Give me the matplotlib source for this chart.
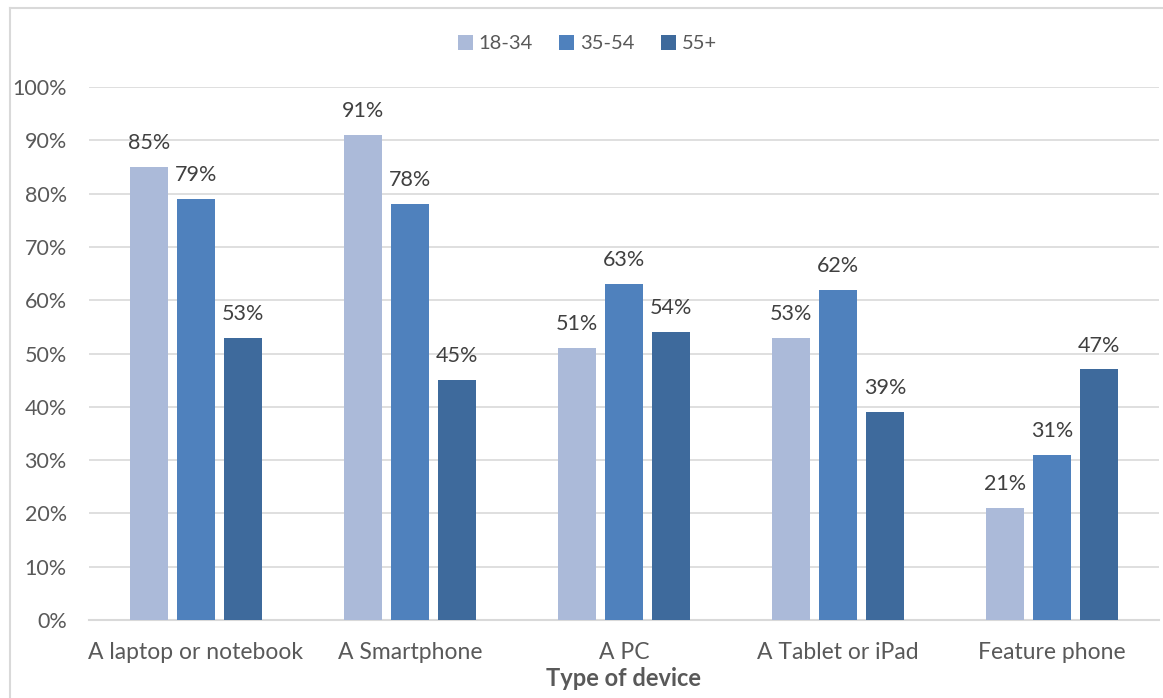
import matplotlib
matplotlib.use("Agg")
import matplotlib.pyplot as plt
import numpy as np
from matplotlib.lines import Line2D

# Device ownership by age group (share of respondents)
devices = ["A laptop or notebook", "A Smartphone", "A PC", "A Tablet or iPad", "Feature phone"]
age_groups = ["18-34", "35-54", "55+"]
share_18_34 = [85, 91, 51, 53, 21]
share_35_54 = [79, 78, 63, 62, 31]
share_55_plus = [53, 45, 54, 39, 47]

colors = ["#ABBAD9", "#4F81BD", "#3E6A9C"]
text_gray = "#595959"
grid_gray = "#D9D9D9"

plt.rcParams["font.family"] = ["Lato", "DejaVu Sans"]

fig = plt.figure(figsize=(11.63, 6.98), dpi=100)
ax = fig.add_axes([0.0765, 0.1117, 0.92, 0.7637])

x = np.arange(len(devices))
width = 0.178
step = 0.22

for i, (vals, label) in enumerate(zip([share_18_34, share_35_54, share_55_plus], age_groups)):
    pos = x + (i - 1) * step
    bars = ax.bar(pos, vals, width, color=colors[i], label=label, zorder=3)
    for b, v in zip(bars, vals):
        ax.annotate(f"{v}%", (b.get_x() + b.get_width() / 2, v),
                    xytext=(0, 10), textcoords="offset points",
                    ha="center", va="bottom", fontsize=15.5, color="#404040")

ax.set_xlim(-0.5, len(devices) - 0.5)
ax.set_ylim(0, 100)
ax.set_yticks(np.arange(0, 101, 10))
ax.set_yticklabels([f"{t}%" for t in range(0, 101, 10)])
ax.set_xticks(x)
ax.set_xticklabels(devices)

ax.yaxis.grid(True, color=grid_gray, linewidth=1.2, zorder=0)
for side in ["top", "right", "left"]:
    ax.spines[side].set_visible(False)
ax.spines["bottom"].set_color(grid_gray)
ax.spines["bottom"].set_linewidth(1.5)
ax.tick_params(axis="both", length=0, colors=text_gray)
ax.tick_params(axis="y", pad=16, labelsize=15.5)
ax.tick_params(axis="x", pad=16, labelsize=16.5)

ax.set_xlabel("Type of device", fontsize=17, fontweight="bold", color=text_gray, labelpad=3)

leg = ax.legend(loc="center", bbox_to_anchor=(0.466, 1.081), ncol=3, frameon=False,
                fontsize=14.5, handlelength=0.75, handleheight=0.75, handletextpad=0.3,
                columnspacing=1.3, labelcolor=text_gray)

# chart frame
fig.add_artist(Line2D([10 / 1163, 10 / 1163], [0, 1 - 8 / 698], color=grid_gray, linewidth=1.5))
fig.add_artist(Line2D([10 / 1163, 1], [1 - 8 / 698, 1 - 8 / 698], color=grid_gray, linewidth=1.5))

fig.savefig("out.png", dpi=100)
